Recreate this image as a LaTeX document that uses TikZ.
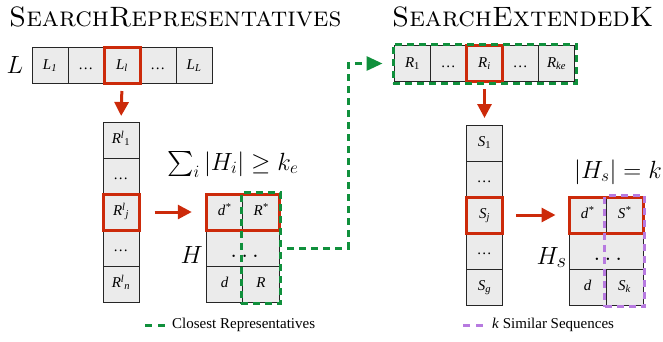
\documentclass[tikz,border=0pt]{standalone}
\usepackage{amsmath,amssymb}
\usepackage{fontspec}
\newfontfamily\tnr{Liberation Serif}
\usepackage{xcolor}
\usepackage{tikz}
\usetikzlibrary{arrows.meta, positioning, fit, calc}
\definecolor{hired}{HTML}{CC2A0A}
\definecolor{clgreen}{HTML}{10903C}
\definecolor{simpurple}{HTML}{B77AE0}
\definecolor{cellgray}{HTML}{EBEBEB}
\tikzset{
  % Array cells
  cell/.style={rectangle, draw=black!85, line width=0.8pt, fill=cellgray, minimum width=36pt, minimum height=36pt, inner sep=0pt, outer sep=0pt, text height=10pt, text depth=3pt, font=\tnr\fontsize{15}{18}\selectfont\itshape},
  wcell/.style={cell, minimum width=#1},
  dotcell/.style={cell, minimum width=#1, text height=20pt, text depth=2pt, font=\fontsize{25}{28}\selectfont},
  % Highlights
  pickbox/.style={rectangle, draw=hired, line width=3pt, inner sep=0pt},
  greenbox/.style={rectangle, draw=clgreen, line width=3pt, dash pattern=on 7pt off 5pt, inner sep=1.5pt},
  purplebox/.style={rectangle, draw=simpurple, line width=3pt, dash pattern=on 7pt off 5pt, inner sep=1.5pt},
  redarrow/.style={draw=hired, line width=3pt, -{Triangle[width=14pt, length=14pt]}},
  greenarrow/.style={draw=clgreen, line width=3pt, dash pattern=on 7pt off 5pt, -{Triangle[width=14pt, length=16pt]}},
  % Labels
  title/.style={inner sep=0pt, font=\fontsize{28}{30}\selectfont},
  biglabel/.style={inner sep=0pt, font=\fontsize{33}{36}\selectfont},
  formula/.style={inner sep=0pt, font=\fontsize{25}{28}\selectfont},
  legend/.style={inner sep=0pt, anchor=west, font=\tnr\fontsize{15}{18}\selectfont},
}
\begin{document}
\begin{tikzpicture}[x=1pt, y=-1pt]
    \useasboundingbox (0,0) rectangle (663,341);

    % Titles
    \node[title, anchor=base west] (trep) at (9,26) {\textsc{SearchRepresentatives}};
    \node[title, anchor=base west] (text) at (392,26) {\textsc{SearchExtendedK}};

    % List L
    \node[biglabel] (lab) at (15,65) {$L$};
    \node[cell] (l1) at (50,65.5) {L\textsubscript{1}};
    \node[cell, right=0pt of l1] (l2) {\dots};
    \node[cell, right=0pt of l2] (l3) {L\textsubscript{l}};
    \node[cell, right=0pt of l3] (l4) {\dots};
    \node[cell, right=0pt of l4] (l5) {L\textsubscript{L}};
    \node[pickbox, fit=(l3)] (pl) {};

    % Representatives of L_l
    \node[cell] (r1) at (121,140) {R\textsuperscript{l}\textsubscript{\upshape 1}};
    \node[cell, below=0pt of r1] (r2) {\dots};
    \node[cell, below=0pt of r2] (r3) {R\textsuperscript{l}\textsubscript{j}};
    \node[cell, below=0pt of r3] (r4) {\dots};
    \node[cell, below=0pt of r4] (r5) {R\textsuperscript{l}\textsubscript{n}};
    \node[pickbox, fit=(r3)] (pr) {};

    % Heap H
    \node[formula, anchor=base west] (sumh) at (167,170) {$\sum_i |H_i| \geq k_e$};
    \node[biglabel, anchor=base east] (hlab) at (203,263) {$H$};
    \node[wcell=36.5pt] (hd1) at (224.5,212) {d\textsuperscript{*}};
    \node[wcell=36.5pt, right=0pt of hd1] (hr1) {R\textsuperscript{*}};
    \node[dotcell=73pt, below=0pt of hd1.south east] (hmid) {\hspace*{4pt}$\ldots$};
    \node[wcell=36.5pt, below=36pt of hd1] (hd2) {d};
    \node[wcell=36.5pt, right=0pt of hd2] (hr2) {R};
    \node[pickbox, fit=(hd1)(hr1)] (ph) {};
    \node[greenbox, fit=(hr1)(hr2)] (gh) {};

    % Extended representatives
    \node[cell] (ra1) at (412.5,63.5) {R\textsubscript{\upshape 1}};
    \node[cell, right=0pt of ra1] (ra2) {\dots};
    \node[cell, right=0pt of ra2] (ra3) {R\textsubscript{i}};
    \node[cell, right=0pt of ra3] (ra4) {\dots};
    \node[cell, right=0pt of ra4] (ra5) {R\textsubscript{ke}};
    \node[pickbox, fit=(ra3)] (pra) {};
    \node[greenbox, fit=(ra1)(ra5)] (gra) {};

    % Sequences of R_i
    \node[cell] (s1) at (484.5,143) {S\textsubscript{\upshape 1}};
    \node[cell, below=0pt of s1] (s2) {\dots};
    \node[cell, below=0pt of s2] (s3) {S\textsubscript{j}};
    \node[cell, below=0pt of s3] (s4) {\dots};
    \node[cell, below=0pt of s4] (s5) {S\textsubscript{g}};
    \node[pickbox, fit=(s3)] (ps) {};

    % Heap H_s
    \node[formula, anchor=base east] (hsk) at (662,178) {$|H_s| = k$};
    \node[formula, anchor=base east] (hslab) at (567,264) {\fontsize{28}{30}\selectfont$H_s$};
    \node[wcell=37pt] (hsd1) at (587.5,215) {d\textsuperscript{*}};
    \node[wcell=37pt, right=0pt of hsd1] (hss1) {S\textsuperscript{*}};
    \node[dotcell=74pt, below=0pt of hsd1.south east] (hsmid) {\hspace*{4pt}$\ldots$};
    \node[wcell=37pt, below=36pt of hsd1] (hsd2) {d};
    \node[wcell=37pt, right=0pt of hsd2] (hss2) {S\textsubscript{k}};
    \node[pickbox, fit=(hsd1)(hss1)] (phs) {};
    \node[purplebox, fit=(hss1)(hss2)] (phk) {};

    % Arrows
    \draw[redarrow, shorten <=6pt, shorten >=6pt] (pl.south) -- (r1.north);
    \draw[redarrow, shorten <=14pt, shorten >=13pt] (pr.east) -- (pr.east -| ph.west);
    \draw[redarrow, shorten <=6pt, shorten >=7pt] (pra.south) -- (pra.south |- s1.north);
    \draw[redarrow, shorten <=12pt, shorten >=12pt] (ps.east) -- (ps.east -| phs.west);
    \coordinate (turn) at (348,248);
    \draw[greenarrow, shorten <=8pt, shorten >=9pt] (hmid.east) -- (turn |- hmid.east) -- (turn |- gra.west) -- (gra.west);

    % Legend
    \node[legend] (leg1) at (172,325) {Closest Representatives};
    \node[legend] (leg2) at (492,325) {\textit{k} Similar Sequences};
    \draw[draw=clgreen, line width=3pt, dash pattern=on 7pt off 6pt] ($(leg1.west)+(-27,0)$) -- ($(leg1.west)+(-7,0)$);
    \draw[draw=simpurple, line width=3pt, dash pattern=on 7pt off 6pt] ($(leg2.west)+(-29,0)$) -- ($(leg2.west)+(-7,0)$);
\end{tikzpicture}
\end{document}
